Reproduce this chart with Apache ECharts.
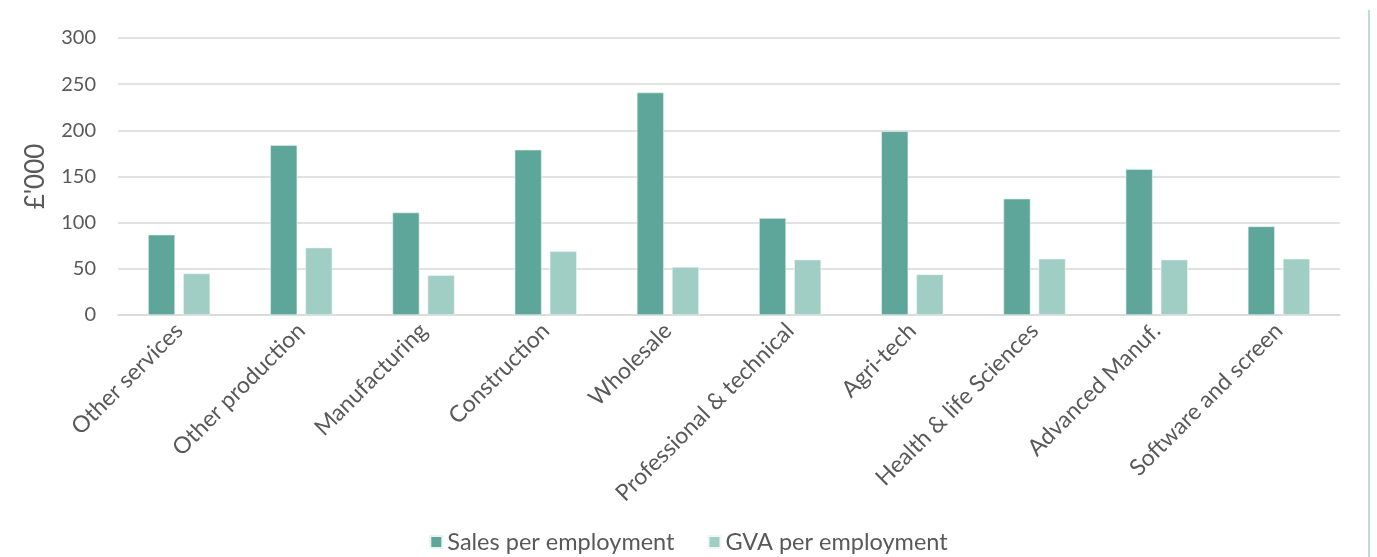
<!DOCTYPE html>
<html>
<head>
<meta charset="utf-8">
<script src="https://cdn.jsdelivr.net/npm/echarts@6/dist/echarts.min.js"></script>
<style>
  html, body { margin: 0; padding: 0; background: #fff; }
  #chart { width: 1377px; height: 557px; }
</style>
</head>
<body>
<div id="chart"></div>
<script>
var categories = ["Other services", "Other production", "Manufacturing", "Construction", "Wholesale",
  "Professional & technical", "Agri-tech", "Health & life Sciences", "Advanced Manuf.", "Software and screen"];
var salesPerEmployment = [87, 184, 111, 179, 241, 105, 199, 126, 158, 96];
var gvaPerEmployment = [45, 73, 43, 69, 52, 60, 44, 61, 60, 61];
var yTicks = [0, 50, 100, 150, 200, 250, 300];

var chart = echarts.init(document.getElementById("chart"));

var option = {
  animation: false,
  textStyle: { fontFamily: "Lato" },
  color: ["#5fa69a", "#a0cdc4"],
  legend: {
    data: ["Sales per employment", "GVA per employment"],
    top: 530,
    left: "center",
    padding: 0,
    icon: "rect",
    itemWidth: 12,
    itemHeight: 12,
    itemGap: 33,
    textStyle: { fontSize: 23.5, color: "#595959", fontFamily: "Lato" }
  },
  grid: { left: 118, right: 37, top: 38, bottom: 242 },
  xAxis: {
    type: "category",
    data: categories,
    axisLine: { lineStyle: { color: "#d9d9d9", width: 1.5 } },
    axisTick: { show: false },
    axisLabel: {
      rotate: 45,
      interval: 0,
      margin: 12,
      fontSize: 23,
      color: "#595959",
      fontFamily: "Lato"
    }
  },
  yAxis: {
    type: "value",
    min: yTicks[0],
    max: yTicks[yTicks.length - 1],
    interval: 50,
    name: "£'000",
    nameLocation: "middle",
    nameGap: 69,
    nameTextStyle: { fontSize: 26, color: "#595959", fontFamily: "Lato" },
    axisLine: { show: false },
    axisTick: { show: false },
    axisLabel: { fontSize: 20, color: "#595959", margin: 22, fontFamily: "Lato" },
    splitLine: { lineStyle: { color: "#d9d9d9", width: 1.5 } }
  },
  graphic: [
    {
      type: "line",
      shape: { x1: 1369, y1: 10, x2: 1369, y2: 557 },
      style: { stroke: "#7fb8ae", lineWidth: 1 }
    }
  ],
  series: [
    {
      name: "Sales per employment",
      type: "bar",
      barWidth: 27,
      barGap: "30%",
      data: salesPerEmployment,
      itemStyle: { borderColor: "#e8f3f1", borderWidth: 0.6 }
    },
    {
      name: "GVA per employment",
      type: "bar",
      barWidth: 27,
      barGap: "30%",
      data: gvaPerEmployment,
      itemStyle: { borderColor: "#eef7f5", borderWidth: 0.6 }
    }
  ]
};

chart.setOption(option);
window.addEventListener("resize", function () {
  chart.resize();
});
</script>
</body>
</html>
